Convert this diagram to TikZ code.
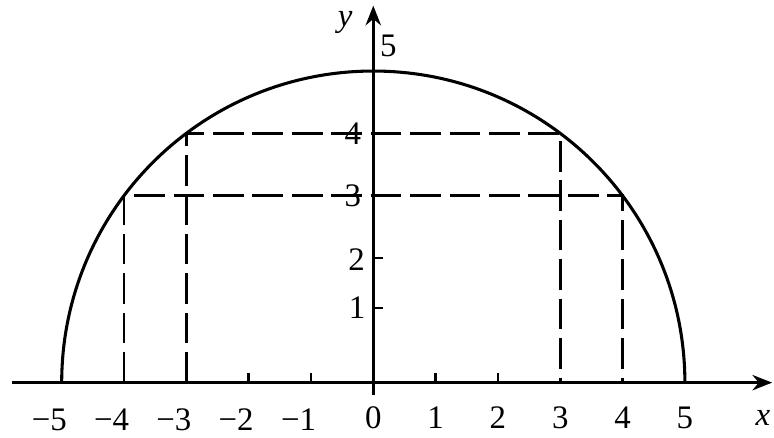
\documentclass[tikz,border=0pt]{standalone}
\usepackage{fontspec}
\setmainfont{Liberation Serif}
\usetikzlibrary{arrows.meta}
\begin{document}
\begin{tikzpicture}[x=1cm,y=1cm,
  axis/.style={line width=1.4pt,-{Stealth[length=9pt,width=7pt]}},
  curve/.style={line width=1.4pt},
  guide/.style={line width=1.3pt,dash pattern=on 14pt off 4pt},
  lab/.style={font=\fontsize{15}{15}\selectfont,inner sep=0pt}]
\useasboundingbox (-5.99,-0.88) rectangle (6.43,6.14);
\coordinate (xs) at (-5.8,0);
\coordinate (xe) at (6.4,0);
\coordinate (ys) at (0,-0.2);
\coordinate (ye) at (0,6.05);
\draw[axis] (xs) -- (xe);
\draw[axis] (ys) -- (ye);
\draw[curve] (-5,0) arc[start angle=180,end angle=0,radius=5];
\coordinate (a) at (-4,0); \coordinate (a3) at (-4,3);
\coordinate (b) at (-3,0); \coordinate (b4) at (-3,4);
\coordinate (c) at (3,0);  \coordinate (c4) at (3,4);
\coordinate (d) at (4,0);  \coordinate (d3) at (4,3);
\draw[guide] (a) -- (a3) -- (d3) -- (d);
\draw[guide] (b) -- (b4) -- (c4) -- (c);
\foreach \t in {-2,-1,1,2} \draw[line width=1.2pt] (\t,0) -- (\t,0.15);
\draw[line width=1.2pt] (0,2) -- (0.15,2);
\draw[line width=1.2pt] (0,1.2) -- (0.15,1.2);
\foreach \t in {1,2,3,4,5} \node[lab] (m\t) at (-\t-0.2,-0.6) {−\t};
\foreach \t in {0,1,2,3,4,5} \node[lab] (p\t) at (\t,-0.56) {\t};
\node[lab] (lx) at (6.25,-0.56) {\itshape x};
\node[lab] (ly) at (-0.45,5.78) {\itshape y};
\node[lab] (l5) at (0.24,5.4) {5};
\node[lab] (l4) at (-0.33,4.0) {4};
\node[lab] (l3) at (-0.33,3.0) {3};
\node[lab] (l2) at (-0.27,1.97) {2};
\node[lab] (l1) at (-0.26,1.2) {1};
\end{tikzpicture}
\end{document}
